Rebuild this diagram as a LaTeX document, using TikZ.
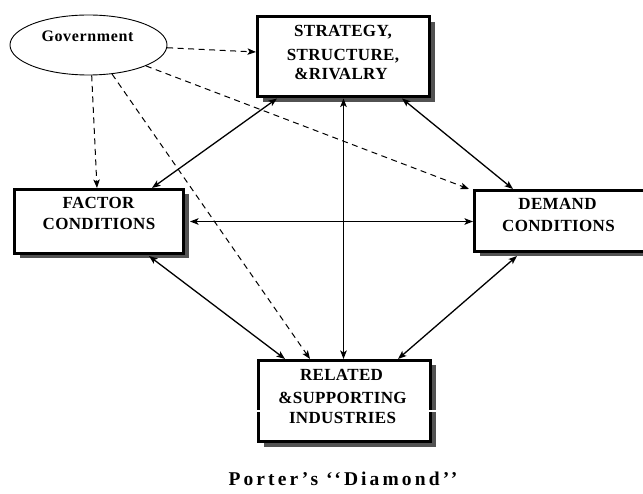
\documentclass[tikz,border=0pt]{standalone}
\usepackage{fontspec}
\setmainfont{Liberation Serif}
\newfontfamily\boxfont{Liberation Serif}[LetterSpace=2]
\newfontfamily\govfont{Liberation Serif}[LetterSpace=4]
\newfontfamily\titlefont{Liberation Serif}[LetterSpace=16]
\usetikzlibrary{arrows.meta,shapes.geometric,shadows}
\begin{document}
\begin{tikzpicture}[x=1pt,y=-1pt,
  box/.style={draw, line width=3pt, fill=white, rectangle, inner sep=0pt,
    drop shadow={shadow xshift=5pt,shadow yshift=-5pt,fill=black!68,opacity=1}},
  lbl/.style={anchor=base, inner sep=0pt, font=\boxfont\bfseries\fontsize{17}{20}\selectfont},
  tip/.tip={Stealth[length=8.5pt,width=6.5pt,inset=2pt]},
  link/.style={line width=1.3pt, tip-tip},
  govlink/.style={line width=1pt, dash pattern=on 6pt off 4.5pt, -tip}
]
\useasboundingbox[fill=white] (0,0) rectangle (643,494);

% ellipse
\node[draw, ellipse, line width=0.9pt, minimum width=157pt, minimum height=60pt, inner sep=0pt] (G) at (88.5,45) {};
\node[anchor=base, inner sep=0pt, font=\govfont\bfseries\fontsize{16}{19}\selectfont] (gt) at (87.5,42) {Government};

% boxes
\node[box, minimum width=172pt, minimum height=80pt] (S) at (343.5,57) {};
\node[box, minimum width=169pt, minimum height=64pt] (F) at (99,221.5) {};
\node[box, minimum width=171.5pt, minimum height=61pt] (D) at (560.25,221) {};
\node[box, minimum width=172pt, minimum height=81pt] (R) at (344.5,401) {};

% white scan artifact across related box
\fill[white] ([xshift=-3pt,yshift=-9pt]R.west) rectangle ([xshift=8pt,yshift=-11.5pt]R.east);

% box texts
\node[lbl] (s1) at (343,37) {STRATEGY,};
\node[lbl] (s2) at (343,61) {STRUCTURE,};
\node[lbl] (s3) at (341,80) {\&RIVALRY};
\node[lbl] (f1) at (98.5,209) {FACTOR};
\node[lbl] (f2) at (99,230) {CONDITIONS};
\node[lbl] (d1) at (557.5,210) {DEMAND};
\node[lbl] (d2) at (558.5,232) {CONDITIONS};
\node[lbl] (r1) at (341.5,381) {RELATED};
\node[lbl] (r2) at (342.5,403) {\&SUPPORTING};
\node[lbl] (r3) at (342.5,424) {INDUSTRIES};

% government influences
\draw[govlink] (G.-2) -- ([yshift=5pt]S.west);
\draw[govlink] (G.-84) -- ([xshift=-2pt]F.north);
\draw[govlink] (G.-51) -- ([xshift=-34.5pt]R.north);
\draw[govlink] (G.-20) -- ([xshift=-4pt]D.north west);

% diamond links
\draw[link] ([xshift=21pt]S.south west) -- ([xshift=53pt]F.north);
\draw[link] (S.south) -- (S.south |- R.north);
\draw[link] ([xshift=-29pt]S.south east) -- ([xshift=40pt]D.north west);
\draw[link] ([xshift=5pt]F.east) -- (F.east -| D.west);
\draw[link] ([xshift=136pt,yshift=-1pt]F.south west) -- ([xshift=28pt]R.north west);
\draw[link] ([xshift=44pt,yshift=-3pt]D.south west) -- ([xshift=-34pt]R.north east);

% title
\node[anchor=base, inner sep=0pt, font=\titlefont\bfseries\fontsize{19.5}{23}\selectfont] (title) at (343,485) {Porter’s ‘‘Diamond’’};
\end{tikzpicture}
\end{document}
